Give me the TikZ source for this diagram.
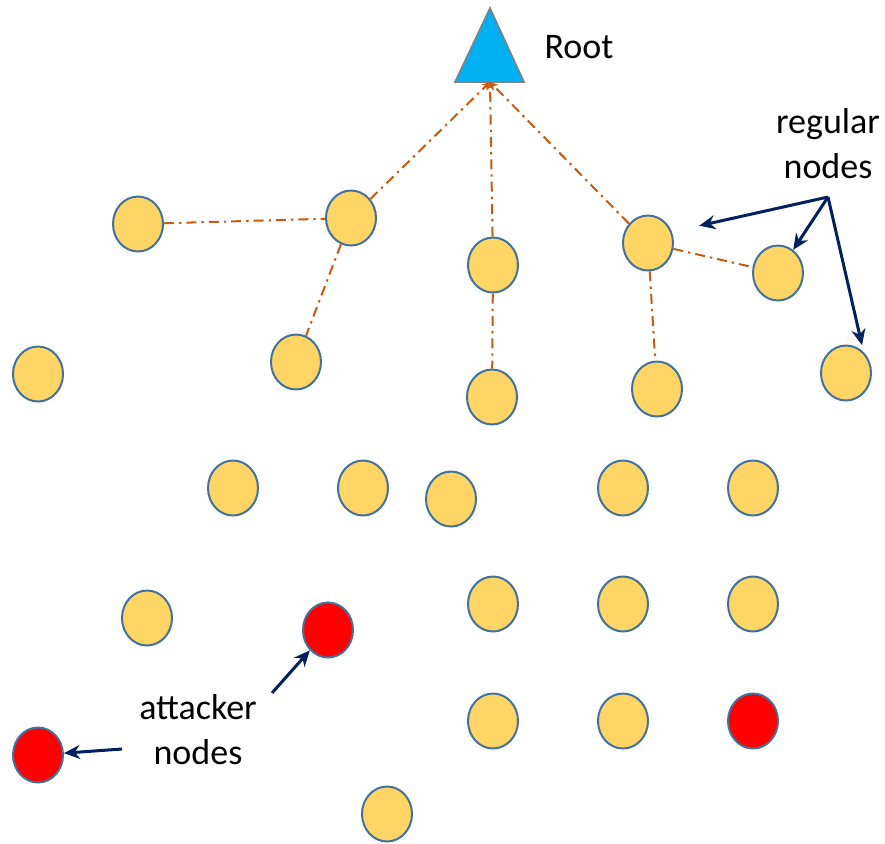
\documentclass[tikz,border=0pt]{standalone}
\usepackage{fontspec}
\setmainfont{Carlito}
\usepackage{tikz}
\usetikzlibrary{arrows.meta, shapes.geometric}
\definecolor{PeerYellow}{RGB}{255,214,102}
\definecolor{PeerBorder}{RGB}{65,113,156}
\definecolor{RootBlue}{RGB}{0,176,240}
\definecolor{LinkOrange}{RGB}{197,90,17}
\definecolor{PointerNavy}{RGB}{0,32,96}

\begin{document}
\begin{tikzpicture}[x=0.5pt, y=-0.5pt, font=\fontsize{18}{22.5}\selectfont,
    peer/.style={ellipse, draw=PeerBorder, line width=1pt, fill=PeerYellow,
        minimum width=25pt, minimum height=27.5pt, inner sep=0pt},
    attacker/.style={peer, fill=red},
    link/.style={draw=LinkOrange, line width=1pt,
        dash pattern=on 5pt off 2.5pt on 1.2pt off 2.5pt},
    pointer/.style={draw=PointerNavy, line width=1.5pt,
        -{Stealth[length=8pt, width=7pt]}}]
    \useasboundingbox (0,0) rectangle (885,843);

    % Root
    \draw[fill=RootBlue, draw=gray, line width=0.8pt] (455,82) -- (490,8) -- (524,82) -- cycle;
    \coordinate (root) at (490,82);
    \node (rootlabel) at (579,47) {Root};

    % regular nodes
    \node[peer] (n1) at (138,224) {};
    \node[peer] (n2) at (351,218) {};
    \node[peer] (n3) at (493,265) {};
    \node[peer] (n4) at (648,243) {};
    \node[peer] (n5) at (778,273) {};
    \node[peer] (n6) at (38,374) {};
    \node[peer] (n7) at (296,362) {};
    \node[peer] (n8) at (492,397) {};
    \node[peer] (n9) at (657,389) {};
    \node[peer] (n10) at (846,373) {};
    \node[peer] (n11) at (233,488) {};
    \node[peer] (n12) at (363,488) {};
    \node[peer] (n13) at (451,499) {};
    \node[peer] (n14) at (623,488) {};
    \node[peer] (n15) at (753,488) {};
    \node[peer] (n16) at (147,618) {};
    \node[peer] (n17) at (493,604) {};
    \node[peer] (n18) at (623,604) {};
    \node[peer] (n19) at (753,604) {};
    \node[peer] (n20) at (493,721) {};
    \node[peer] (n21) at (623,721) {};
    \node[peer] (n22) at (387,814) {};

    % attacker nodes
    \node[attacker] (atk1) at (328,630) {};
    \node[attacker] (atk2) at (38,755) {};
    \node[attacker] (atk3) at (753,721) {};

    % tree links (dash-dot)
    \draw[link, -{Stealth[length=4pt, width=4pt]}] (n2) -- (root);
    \draw[link, -{Stealth[length=4pt, width=4pt]}] (n3) -- (root);
    \draw[link, -{Stealth[length=4pt, width=4pt]}] (n4) -- (root);
    \draw[link] (n1) -- (n2);
    \draw[link] (n2) -- (n7);
    \draw[link] (n3) -- (n8);
    \draw[link] (n4) -- (n9);
    \draw[link] (n4) -- (n5);

    % labels and pointers
    \node[align=center] (regtext) at (828,144) {regular\\nodes};
    \coordinate (regfork) at (828,197);
    \draw[pointer, shorten >=14pt] (regfork) -- (n4.25);
    \draw[pointer] (regfork) -- (n5);
    \draw[pointer, shorten >=3.5pt] (regfork) -- (n10.50);

    \node[align=center] (atktext) at (198,730) {attacker\\nodes};
    \coordinate (atkforkA) at (272,693);
    \coordinate (atkforkB) at (122,749);
    \draw[pointer] (atkforkA) -- (atk1);
    \draw[pointer] (atkforkB) -- (atk2);
\end{tikzpicture}
\end{document}
